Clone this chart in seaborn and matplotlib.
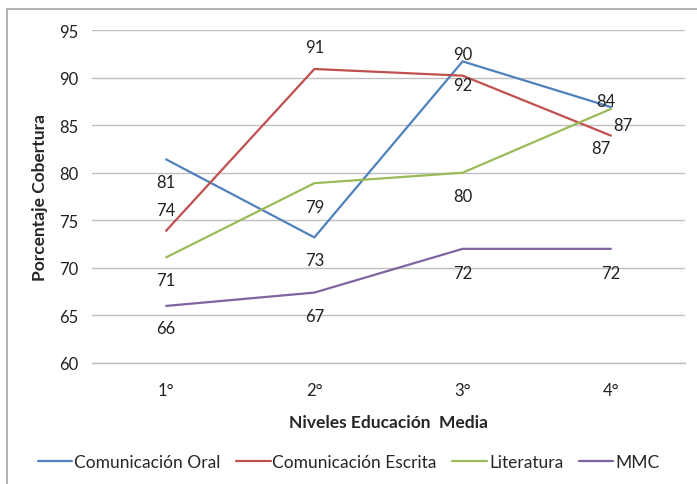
import pandas as pd
import seaborn as sns
import matplotlib.pyplot as plt
from matplotlib.patches import Rectangle

# datos
niveles = ['1°', '2°', '3°', '4°']
oral = [81.4, 73.2, 91.7, 86.9]
escrita = [73.9, 90.9, 90.2, 83.9]
literatura = [71.1, 78.9, 80.0, 86.7]
mmc = [66.0, 67.4, 72.0, 72.0]

etiq_oral = ['81', '73', '92', '87']
etiq_escrita = ['74', '91', '90', '84']
etiq_literatura = ['71', '79', '80', '87']
etiq_mmc = ['66', '67', '72', '72']

series = ['Comunicación Oral', 'Comunicación Escrita', 'Literatura', 'MMC']
colores = ['#4F81BD', '#C0504D', '#9BBB59', '#8064A2']

# desplazamiento de cada etiqueta en pixeles (dx, dy)
desp = {
    'Comunicación Oral': [(0, -23), (0, -23), (0, -24), (12, -18)],
    'Comunicación Escrita': [(0, 21), (0, 22), (0, 22), (-5, 35)],
    'Literatura': [(0, -23), (0, -24), (0, -23), (-10, -39)],
    'MMC': [(0, -22), (0, -23), (0, -24), (0, -24)],
}

valores = [oral, escrita, literatura, mmc]
etiquetas = [etiq_oral, etiq_escrita, etiq_literatura, etiq_mmc]

filas = []
for nombre, vals in zip(series, valores):
    for i, v in enumerate(vals):
        filas.append({'Serie': nombre, 'pos': i, 'valor': v})
df = pd.DataFrame(filas)

sns.set_theme(style='white')
plt.rcParams['font.family'] = ['Lato', 'DejaVu Sans']

fig = plt.figure(figsize=(6.97, 4.85), dpi=100)
ax = fig.add_axes([92 / 697, 1 - 364 / 485, (685 - 92) / 697, (364 - 31) / 485])

sns.lineplot(data=df, x='pos', y='valor', hue='Serie', hue_order=series,
             palette=colores, linewidth=1.6, ax=ax, errorbar=None)

for nombre, vals, etq in zip(series, valores, etiquetas):
    for i, (v, t) in enumerate(zip(vals, etq)):
        dx, dy = desp[nombre][i]
        ax.annotate(t, (i, v), xytext=(dx, dy), textcoords='offset pixels',
                    ha='center', va='center', fontsize=12, color='#222222')

ax.set_xlim(-0.5, 3.5)
ax.set_ylim(60, 95)
ax.set_yticks(range(60, 96, 5))
ax.set_xticks(range(len(niveles)))
ax.set_xticklabels(niveles)
ax.yaxis.grid(True, color='#BFBFBF', linewidth=1.0)
for s in ax.spines.values():
    s.set_visible(False)
ax.spines['bottom'].set_visible(True)
ax.spines['bottom'].set_color('#BFBFBF')
ax.spines['bottom'].set_linewidth(1.0)
ax.tick_params(axis='both', length=0, labelsize=12, colors='#222222')
ax.tick_params(axis='x', pad=14)
ax.tick_params(axis='y', pad=10)

ax.set_xlabel('Niveles Educación  Media', fontsize=12.5, fontweight='bold', labelpad=11)
ax.set_ylabel('Porcentaje Cobertura', fontsize=12.5, fontweight='bold', labelpad=8)

ax.legend(loc='center', bbox_to_anchor=(0.5, 1 - 463 / 485), bbox_transform=fig.transFigure,
          ncol=4, frameon=False, fontsize=12.5, handlelength=2.0, handletextpad=0.1,
          columnspacing=0.9)

fig.patches.append(Rectangle((7 / 697, -0.1), 1.2, 1 - 10 / 485 + 0.1, transform=fig.transFigure,
                             fill=False, edgecolor='#A6A6A6', linewidth=1.2))

fig.savefig('out.png', dpi=100)
